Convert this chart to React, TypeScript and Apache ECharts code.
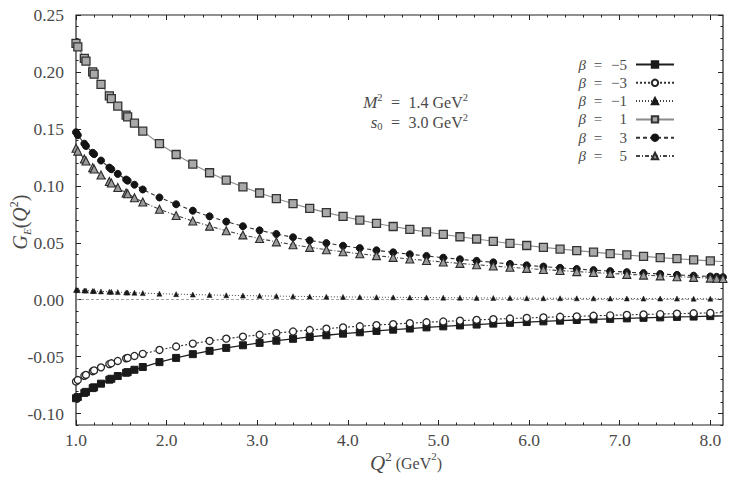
import React, { useEffect, useRef } from "react";
import * as echarts from "echarts";

// Q^2 sample points (GeV^2)
const q2 = [
  1.0, 1.02, 1.092, 1.11, 1.184, 1.2, 1.276, 1.368, 1.39, 1.461, 1.553, 1.57, 1.645, 1.737,
  1.921, 2.105, 2.289, 2.474, 2.658, 2.842, 3.026, 3.211, 3.395, 3.579,
  3.763, 3.947, 4.132, 4.316, 4.5, 4.684, 4.868, 5.053, 5.237, 5.421,
  5.605, 5.789, 5.974, 6.158, 6.342, 6.526, 6.711, 6.895, 7.079, 7.263,
  7.447, 7.632, 7.816, 8.0, 8.07, 8.14,
];

// G_E(Q^2) for each mixing parameter beta
const geBetaM5 = [
  -0.0865, -0.0855, -0.0818, -0.0809, -0.0776, -0.0769, -0.0737, -0.0702, -0.0694, -0.067, -0.0641, -0.0636, -0.0615, -0.0591,
  -0.0548, -0.0511, -0.0478, -0.0449, -0.0423, -0.04, -0.0379, -0.036, -0.0343, -0.0327,
  -0.0312, -0.0298, -0.0286, -0.0274, -0.0263, -0.0253, -0.0243, -0.0234, -0.0226, -0.0218,
  -0.021, -0.0203, -0.0196, -0.019, -0.0184, -0.0178, -0.0173, -0.0168, -0.0164, -0.0159,
  -0.0155, -0.0151, -0.0148, -0.0144, -0.0143, -0.0142,
];
const geBetaM3 = [
  -0.0718, -0.0705, -0.0668, -0.066, -0.0628, -0.0621, -0.0594, -0.0565, -0.0558, -0.0538, -0.0515, -0.0511, -0.0494, -0.0475,
  -0.0441, -0.0411, -0.0385, -0.0362, -0.0342, -0.0324, -0.0308, -0.0293, -0.0279, -0.0266,
  -0.0254, -0.0243, -0.0233, -0.0223, -0.0214, -0.0206, -0.0198, -0.0191, -0.0184, -0.0177,
  -0.0171, -0.0165, -0.016, -0.0155, -0.015, -0.0146, -0.0141, -0.0137, -0.0133, -0.0129,
  -0.0126, -0.0122, -0.0119, -0.0116, -0.0115, -0.0114,
];
const geBetaM1 = [
  0.0085, 0.0084, 0.0081, 0.008, 0.0077, 0.0076, 0.0073, 0.007, 0.0069, 0.0067, 0.0064, 0.0063, 0.0061, 0.0058,
  0.0053, 0.0049, 0.0045, 0.0042, 0.0039, 0.0036, 0.0034, 0.0032, 0.003, 0.0028,
  0.0026, 0.0025, 0.0023, 0.0022, 0.0021, 0.002, 0.0019, 0.0018, 0.0017, 0.0016,
  0.0015, 0.0015, 0.0014, 0.0013, 0.0013, 0.0012, 0.0012, 0.0011, 0.0011, 0.001,
  0.001, 0.001, 0.0009, 0.0009, 0.0009, 0.0009,
];
const geBetaP1 = [
  0.225, 0.222, 0.212, 0.2095, 0.2, 0.198, 0.189, 0.179, 0.1765, 0.17, 0.162, 0.1605, 0.155, 0.148,
  0.137, 0.1275, 0.119, 0.1115, 0.105, 0.099, 0.0937, 0.0888, 0.0843, 0.0802,
  0.0765, 0.0731, 0.0699, 0.067, 0.0643, 0.0618, 0.0595, 0.0573, 0.0553, 0.0533,
  0.0513, 0.0494, 0.0476, 0.046, 0.0445, 0.0431, 0.0418, 0.0405, 0.0393, 0.0381,
  0.037, 0.036, 0.035, 0.0341, 0.0338, 0.0335,
];
const geBetaP3 = [
  0.147, 0.1445, 0.137, 0.135, 0.129, 0.1278, 0.1222, 0.116, 0.1146, 0.1105, 0.1055, 0.1046, 0.101, 0.0968,
  0.0898, 0.0838, 0.0782, 0.0732, 0.0686, 0.0645, 0.0609, 0.0577, 0.0548, 0.0521,
  0.0497, 0.0474, 0.0453, 0.0434, 0.0416, 0.0399, 0.0384, 0.0369, 0.0355, 0.0341,
  0.0328, 0.0314, 0.0302, 0.0291, 0.028, 0.027, 0.026, 0.0251, 0.0242, 0.0234,
  0.0226, 0.0218, 0.0211, 0.0204, 0.0201, 0.0198,
];
const geBetaP5 = [
  0.133, 0.1305, 0.1235, 0.1218, 0.116, 0.1148, 0.1095, 0.1038, 0.1025, 0.0986, 0.0938, 0.093, 0.0896, 0.0858,
  0.0794, 0.074, 0.0691, 0.0646, 0.0605, 0.0569, 0.0537, 0.0508, 0.0483, 0.046,
  0.0439, 0.0421, 0.0403, 0.0387, 0.0372, 0.0357, 0.0344, 0.0331, 0.0319, 0.0307,
  0.0296, 0.0285, 0.0275, 0.0265, 0.0256, 0.0247, 0.0239, 0.0231, 0.0223, 0.0216,
  0.0209, 0.0202, 0.0196, 0.019, 0.0188, 0.0186,
];

const betaLabels = ["−5", "−3", "−1", "1", "3", "5"];

// axis ticks
const xMajorTicks = [1, 2, 3, 4, 5, 6, 7, 8];
const yMajorTicks = [-0.1, -0.05, 0, 0.05, 0.1, 0.15, 0.2, 0.25];
const X_MIN = 1;
const X_MAX = 8.14;
const Y_MIN = -0.11;
const Y_MAX = 0.25;

const FONT = '"Liberation Serif", "DejaVu Serif", serif';
const TEXT = "#4a4a4a";
const INK = "#222";

function minorTicks(from: number, to: number, step: number, majors: number[]) {
  const out: number[] = [];
  const n = Math.round((to - from) / step);
  for (let i = 0; i <= n; i++) {
    const v = +(from + i * step).toFixed(4);
    if (!majors.some((m) => Math.abs(m - v) < 1e-6)) out.push(v);
  }
  return out;
}
const xMinorTicks = minorTicks(1, 8.0, 0.2, xMajorTicks);
const yMinorTicks = minorTicks(-0.11, 0.25, 0.01, yMajorTicks);

type Look = {
  symbol: string;
  size: number;
  fill: string;
  stroke: string;
  strokeWidth: number;
  line: string;
  lineWidth: number;
  dash: any;
  tailMarks: boolean;
};

const looks: Look[] = [
  { symbol: "rect", size: 7, fill: "#1a1a1a", stroke: "#1a1a1a", strokeWidth: 1, line: "#1f1f1f", lineWidth: 1.3, dash: "solid", tailMarks: false },
  { symbol: "circle", size: 7, fill: "#ffffff", stroke: "#262626", strokeWidth: 1.3, line: "#333", lineWidth: 1.1, dash: [2, 2], tailMarks: false },
  { symbol: "triangle", size: 5, fill: "#1a1a1a", stroke: "#1a1a1a", strokeWidth: 0.5, line: "#444", lineWidth: 1, dash: [1, 2], tailMarks: false },
  { symbol: "rect", size: 8, fill: "#a9a9a9", stroke: "#333", strokeWidth: 1.3, line: "#8a8a8a", lineWidth: 1.1, dash: "solid", tailMarks: false },
  { symbol: "circle", size: 7, fill: "#141414", stroke: "#141414", strokeWidth: 1, line: "#333", lineWidth: 1.1, dash: [4, 3], tailMarks: true },
  { symbol: "triangle", size: 8, fill: "#9a9a9a", stroke: "#2a2a2a", strokeWidth: 1.1, line: "#444", lineWidth: 1.1, dash: [4, 2, 1, 2], tailMarks: true },
];

const seriesValues = [geBetaM5, geBetaM3, geBetaM1, geBetaP1, geBetaP3, geBetaP5];

function buildOption(): any {
  const series = seriesValues.map((vals, k) => {
    const look = looks[k];
    const data = q2.map((x, i) =>
      i >= q2.length - 2 && !look.tailMarks ? { value: [x, vals[i]], symbol: "none" } : [x, vals[i]]
    );
    const s: any = {
      name: "β = " + betaLabels[k],
      type: "line",
      xAxisIndex: 0,
      yAxisIndex: 0,
      data,
      symbol: look.symbol,
      symbolSize: look.size,
      showAllSymbol: true,
      itemStyle: { color: look.fill, borderColor: look.stroke, borderWidth: look.strokeWidth },
      lineStyle: { color: look.line, width: look.lineWidth, type: look.dash },
      z: 3 + k,
    };
    if (k === 0) {
      s.markLine = {
        silent: true,
        symbol: "none",
        label: { show: false },
        lineStyle: { color: "#8c8c8c", width: 0.8, type: [3, 2] },
        data: [{ yAxis: 0 }],
      };
    }
    return s;
  });

  const gridRect = { left: 76, right: 6, top: 15, bottom: 64 };
  const tickLine = { color: INK, width: 1 };
  const xBase = (gridIndex: number) => ({
    type: "value",
    gridIndex,
    min: X_MIN,
    max: X_MAX,
    splitLine: { show: false },
    axisLine: { show: false, onZero: false },
  });
  const yBase = (gridIndex: number) => ({
    type: "value",
    gridIndex,
    min: Y_MIN,
    max: Y_MAX,
    splitLine: { show: false },
    axisLine: { show: false, onZero: false },
  });
  const labelStyle = { color: TEXT, fontFamily: FONT, fontSize: 17.5 };

  return {
    animation: false,
    backgroundColor: "#ffffff",
    grid: [
      { ...gridRect, show: true, borderColor: INK, borderWidth: 1.2, backgroundColor: "transparent" },
      { ...gridRect, show: false },
    ],
    xAxis: [
      {
        ...xBase(0),
        position: "bottom",
        axisLabel: { ...labelStyle, margin: 6, customValues: xMajorTicks, formatter: (v: number) => v.toFixed(1) },
        axisTick: { inside: true, length: 5, customValues: xMajorTicks, lineStyle: tickLine },
      },
      {
        ...xBase(0),
        position: "top",
        axisLabel: { show: false },
        axisTick: { inside: true, length: 5, customValues: xMajorTicks, lineStyle: tickLine },
      },
      {
        ...xBase(1),
        position: "bottom",
        axisLabel: { show: false },
        axisTick: { inside: true, length: 2.5, customValues: xMinorTicks, lineStyle: tickLine },
      },
      {
        ...xBase(1),
        position: "top",
        axisLabel: { show: false },
        axisTick: { inside: true, length: 2.5, customValues: xMinorTicks, lineStyle: tickLine },
      },
    ],
    yAxis: [
      {
        ...yBase(0),
        position: "left",
        axisLabel: { ...labelStyle, margin: 12, customValues: yMajorTicks, formatter: (v: number) => v.toFixed(2) },
        axisTick: { inside: true, length: 5, customValues: yMajorTicks, lineStyle: tickLine },
      },
      {
        ...yBase(0),
        position: "right",
        axisLabel: { show: false },
        axisTick: { inside: true, length: 5, customValues: yMajorTicks, lineStyle: tickLine },
      },
      {
        ...yBase(1),
        position: "left",
        axisLabel: { show: false },
        axisTick: { inside: true, length: 2.5, customValues: yMinorTicks, lineStyle: tickLine },
      },
      {
        ...yBase(1),
        position: "right",
        axisLabel: { show: false },
        axisTick: { inside: true, length: 2.5, customValues: yMinorTicks, lineStyle: tickLine },
      },
    ],
    legend: {
      orient: "vertical",
      right: 54,
      top: 57,
      align: "right",
      itemWidth: 38,
      itemHeight: 8,
      itemGap: 3.3,
      padding: 0,
      data: series.map((s: any) => s.name),
      formatter: (name: string) => {
        const v = name.split("=")[1].trim();
        return `{b|β}{e|=}{n|${v}}`;
      },
      textStyle: {
        color: TEXT,
        fontFamily: FONT,
        fontSize: 15,
        rich: {
          b: { fontFamily: FONT, fontStyle: "italic", fontSize: 15, color: TEXT, lineHeight: 15 },
          e: { fontFamily: FONT, fontSize: 15, width: 24, align: "center", color: TEXT, lineHeight: 15 },
          n: { fontFamily: FONT, fontSize: 15, width: 17, align: "right", color: TEXT, lineHeight: 15, padding: [0, 4, 0, 0] },
        },
      },
    },
    graphic: [
      {
        type: "text",
        x: 468,
        y: 102,
        style: {
          text: "{i|M}{sup|2}{eq|=}{n|1.4 GeV}{sup|2}",
          align: "right",
          verticalAlign: "middle",
          fill: TEXT,
          rich: {
            i: { fontFamily: FONT, fontStyle: "italic", fontSize: 17, lineHeight: 20, fill: TEXT },
            eq: { fontFamily: FONT, fontSize: 16, lineHeight: 20, width: 26, align: "center", fill: TEXT },
            n: { fontFamily: FONT, fontSize: 16, lineHeight: 20, fill: TEXT },
            sup: { fontFamily: FONT, fontSize: 10.5, lineHeight: 12, verticalAlign: "top", fill: TEXT },
          },
        },
      },
      {
        type: "text",
        x: 468,
        y: 122,
        style: {
          text: "{i|s}{sub|0}{eq|=}{n|3.0 GeV}{sup|2}",
          align: "right",
          verticalAlign: "middle",
          fill: TEXT,
          rich: {
            i: { fontFamily: FONT, fontStyle: "italic", fontSize: 17, lineHeight: 20, fill: TEXT },
            eq: { fontFamily: FONT, fontSize: 16, lineHeight: 20, width: 26, align: "center", fill: TEXT },
            n: { fontFamily: FONT, fontSize: 16, lineHeight: 20, fill: TEXT },
            sub: { fontFamily: FONT, fontSize: 10.5, lineHeight: 12, verticalAlign: "bottom", fill: TEXT },
            sup: { fontFamily: FONT, fontSize: 10.5, lineHeight: 12, verticalAlign: "top", fill: TEXT },
          },
        },
      },
      {
        type: "text",
        x: 406,
        y: 463,
        style: {
          text: "{q|Q}{sup|2}{n| (GeV}{sup2|2}{n|)}",
          align: "center",
          verticalAlign: "middle",
          fill: TEXT,
          rich: {
            q: { fontFamily: FONT, fontStyle: "italic", fontSize: 21, lineHeight: 26, fill: TEXT },
            n: { fontFamily: FONT, fontSize: 16, lineHeight: 22, fill: TEXT },
            sup: { fontFamily: FONT, fontSize: 13, lineHeight: 14, verticalAlign: "top", fill: TEXT },
            sup2: { fontFamily: FONT, fontSize: 11, lineHeight: 14, verticalAlign: "top", fill: TEXT },
          },
        },
      },
      {
        type: "text",
        x: 20,
        y: 222,
        rotation: Math.PI / 2,
        style: {
          text: "{i|G}{sub|E}{n|(}{i|Q}{sup|2}{n|)}",
          align: "center",
          verticalAlign: "middle",
          fill: TEXT,
          rich: {
            i: { fontFamily: FONT, fontStyle: "italic", fontSize: 20, lineHeight: 24, fill: TEXT },
            n: { fontFamily: FONT, fontSize: 20, lineHeight: 24, fill: TEXT },
            sub: { fontFamily: FONT, fontStyle: "italic", fontSize: 11, lineHeight: 12, verticalAlign: "bottom", fill: TEXT },
            sup: { fontFamily: FONT, fontSize: 12, lineHeight: 12, verticalAlign: "top", fill: TEXT },
          },
        },
      },
    ],
    series,
  };
}

export default function App() {
  const ref = useRef<HTMLDivElement>(null);
  useEffect(() => {
    if (!ref.current) return;
    const chart = echarts.init(ref.current, null, { renderer: "svg" });
    chart.setOption(buildOption());
    return () => chart.dispose();
  }, []);
  return (
    <div
      ref={ref}
      style={{ position: "absolute", left: 0, top: 0, width: 729, height: 489, background: "#fff" }}
    />
  );
}
